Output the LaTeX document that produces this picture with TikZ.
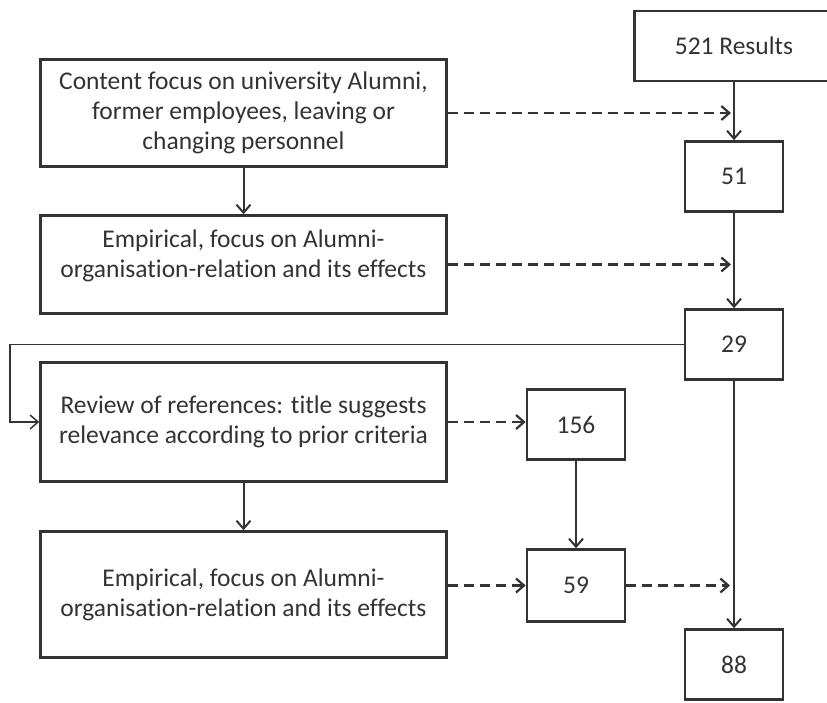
\documentclass[tikz,border=0pt]{standalone}
\usepackage{fontspec}
\setmainfont[Ligatures=NoCommon]{Carlito}
\usetikzlibrary{positioning}
\usetikzlibrary{arrows.meta}
\definecolor{mgray}{rgb}{0.2, 0.2, 0.2}
\tikzset{lbox/.style = {draw=mgray, line width=2.6pt, minimum width=406pt, align=center, text=mgray, font=\fontsize{25.5}{30}\selectfont}}
\tikzset{nbox/.style = {draw=mgray, line width=2.6pt, minimum width=98pt, minimum height=70pt, text=mgray, font=\fontsize{25.5}{30}\selectfont}}
\tikzset{flow/.style = {draw=mgray, line width=2pt, -{Straight Barb[length=8pt,width=14pt]}}}
\tikzset{skip/.style = {flow, line width=2.2pt, dash pattern=on 10pt off 6pt}}

\begin{document}
\begin{tikzpicture}[x=1pt, y=-1pt]
      \useasboundingbox (0, 0) rectangle (827, 702);
      \clip (0, 0) rectangle (827, 702);
      % left column
      \node [lbox, minimum height=107pt] (box1) at (243.5, 113) {Content focus on university Alumni,\\ former employees, leaving or\\ changing personnel};
      \node [lbox, minimum height=98pt, text depth=22pt] (box2) at (243.5, 264.5) {Empirical, focus on Alumni-\\ organisation-relation and its effects};
      \node [lbox, minimum height=119pt] (box3) at (243.5, 422) {Review of references: title suggests\\ relevance according to prior criteria};
      \node [lbox, minimum height=126pt] (box4) at (243.5, 594.5) {Empirical, focus on Alumni-\\ organisation-relation and its effects};
      % right column
      \node [nbox, minimum width=199pt] (res) at (734, 46) {521 Results};
      \node [nbox] (n51) at (734, 176.5) {51};
      \node [nbox] (n29) at (734, 344.5) {29};
      \node [nbox] (n88) at (734, 664.5) {88};
      \node [nbox] (n156) at (576, 424.5) {156};
      \node [nbox, minimum height=72pt] (n59) at (576, 585.5) {59};
      \coordinate (e1) at (box1.east -| n51);
      \coordinate (e2) at (box2.east -| n51);
      \coordinate (e3) at (n59.east -| n88);
      % solid flow
      \draw [flow] (res) -- (n51);
      \draw [flow] (n51) -- (n29);
      \draw [flow] (n29) -- (n88);
      \draw [flow] (box1) -- (box2);
      \draw [flow] (box3) -- (box4);
      \draw [flow] (n156) -- (n59);
      \draw [flow, line width=1.5pt] (n29.west) -| ([xshift=-29pt]box3.west) -- (box3.west);
      % excluded
      \draw [skip] (box1.east) -- ([xshift=-3pt]e1);
      \draw [skip] (box2.east) -- ([xshift=-3pt]e2);
      \draw [skip] (box3.east) -- (box3.east -| n156.west);
      \draw [skip] (box4.east |- n59) -- (n59.west);
      \draw [skip] (n59.east) -- ([xshift=-4pt]e3);
\end{tikzpicture}
\end{document}
